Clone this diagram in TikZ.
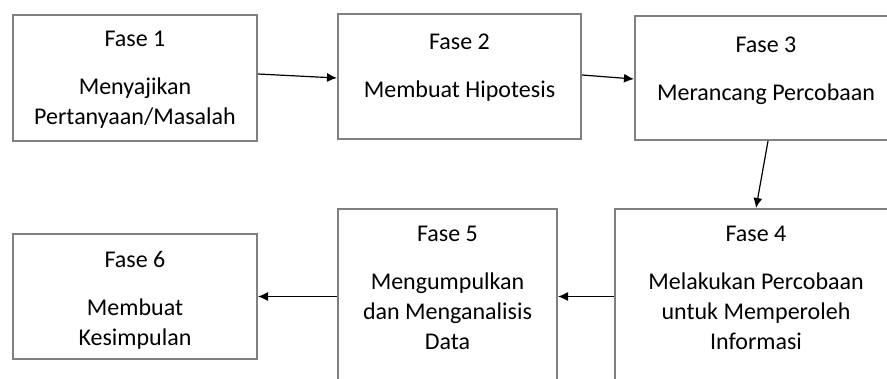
\documentclass[tikz,border=0pt]{standalone}
\usepackage{fontspec}
\setmainfont{Carlito}
\usetikzlibrary{positioning, arrows.meta}
\definecolor{boxgray}{RGB}{128,128,128}
\tikzset{
    x=1pt, y=-1pt, % pixel-like coordinates, y grows downwards
    >={Latex[length=10pt,width=9pt]}, % filled arrow heads
    fase/.style={draw=boxgray, line width=2pt, rectangle, inner sep=0pt}, % the phase boxes
    fasetext/.style={inner sep=0pt, align=center, font=\fontsize{24}{30}\selectfont}, % text inside a box
    flow/.style={->, line width=1.2pt, black}, % connectors between phases
}

\begin{document}
\begin{tikzpicture}
        \useasboundingbox (0,0) rectangle (887,378);
        \clip (0,0) rectangle (887,378);

        \node[fase, minimum width=244pt, minimum height=126pt] (f1) at (135,78) {};
        \node[fase, minimum width=243pt, minimum height=125pt] (f2) at (459.5,76.5) {};
        \node[fase, minimum width=262pt, minimum height=124pt] (f3) at (766,78) {};
        \node[fase, minimum width=282pt, minimum height=212pt] (f4) at (756,315) {};
        \node[fase, minimum width=219pt, minimum height=212pt] (f5) at (447.5,315) {};
        \node[fase, minimum width=244pt, minimum height=125pt] (f6) at (135,296.5) {};

        \node[fasetext, below=17pt of f1.north] (t1) {Fase 1\\[18pt]Menyajikan\\Pertanyaan/Masalah};
        \node[fasetext, below=21pt of f2.north] (t2) {Fase 2\\[18pt]Membuat Hipotesis};
        \node[fasetext, below=22pt of f3.north] (t3) {Fase 3\\[18pt]Merancang Percobaan};
        \node[fasetext, below=18pt of f4.north] (t4) {Fase 4\\[18pt]Melakukan Percobaan\\untuk Memperoleh\\Informasi};
        \node[fasetext, below=18pt of f5.north] (t5) {Fase 5\\[18pt]Mengumpulkan\\dan Menganalisis\\Data};
        \node[fasetext, below=18pt of f6.north] (t6) {Fase 6\\[18pt]Membuat\\Kesimpulan};

        \draw[flow] ([yshift=4pt]f1.east) -- ([yshift=-1.5pt]f2.west);
        \draw[flow] ([yshift=1.5pt]f2.east) -- ([yshift=-1pt]f3.west);
        \draw[flow] ([xshift=2pt]f3.south) -- (f4.north);
        \draw[flow] (f4.west |- f6) -- (f5.east |- f6);
        \draw[flow] (f5.west |- f6) -- (f6.east);
    \end{tikzpicture}
\end{document}
